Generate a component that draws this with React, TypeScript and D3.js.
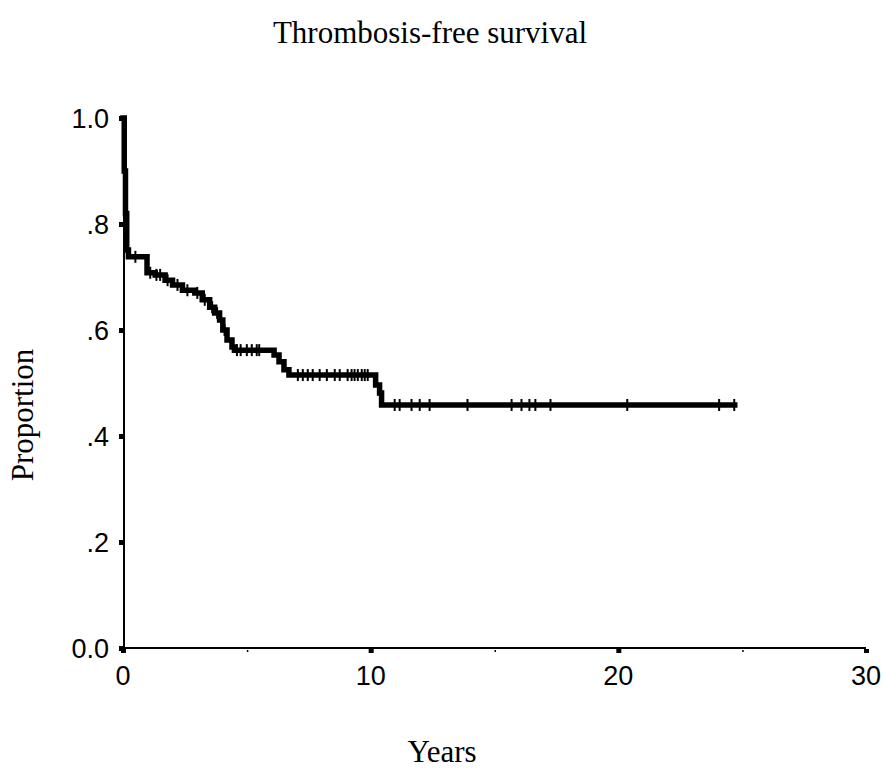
import React from "react";
import * as d3 from "d3";

// Kaplan–Meier step points: from each time on, survival takes the value
const eventTimes = [0, 0.05, 0.1, 0.15, 0.22, 0.97, 1.3, 1.7, 2.0, 2.4, 2.9, 3.2, 3.5, 3.7, 3.9, 4.03, 4.2, 4.4, 4.5, 6.1, 6.3, 6.5, 6.7, 10.2, 10.36, 10.44];
const survival = [1.0, 0.9, 0.82, 0.751, 0.738, 0.708, 0.704, 0.694, 0.685, 0.675, 0.67, 0.657, 0.643, 0.632, 0.619, 0.6, 0.581, 0.568, 0.562, 0.553, 0.54, 0.525, 0.515, 0.496, 0.481, 0.4585];
const lastTime = 24.7;

// censored observations (years)
const censorTimes = [
  0.5, 1.1, 1.35, 1.5, 1.8, 2.2, 2.6, 3.0, 3.3, 3.6, 3.8, 4.1,
  4.6, 4.75, 5.0, 5.2, 5.4, 5.5,
  7.06, 7.26, 7.46, 7.66, 7.94, 8.23, 8.55, 8.75, 9.07, 9.23, 9.35, 9.48, 9.64, 9.76, 9.88,
  10.97, 11.17, 11.65, 11.98, 12.38, 13.91, 15.69, 16.09, 16.41, 16.65, 17.26, 20.36, 24.07, 24.68,
];

const xTicks = [0, 10, 20, 30];
const xMinorTicks = [5, 15, 25];
const yTicks = [0, 0.2, 0.4, 0.6, 0.8, 1.0];
const yTickLabels = ["0.0", ".2", ".4", ".6", ".8", "1.0"];

const W = 885;
const H = 772;
const x0 = 123, x1 = 866, yTop = 118, yBot = 648;

export default function App() {
  const x = d3.scaleLinear().domain([0, 30]).range([x0, x1]);
  const y = d3.scaleLinear().domain([0, 1]).range([yBot, yTop]);

  const pts: [number, number][] = eventTimes.map((t, i) => [t, survival[i]]);
  pts.push([lastTime, survival[survival.length - 1]]);
  const line = d3
    .line<[number, number]>()
    .x((d) => x(d[0]))
    .y((d) => y(d[1]))
    .curve(d3.curveStepAfter);

  const bis = d3.bisector((t: number) => t).right;
  const survAt = (t: number) => survival[Math.max(0, bis(eventTimes, t) - 1)];

  const sans = "'Liberation Sans', Arial, sans-serif";
  const serif = "'Liberation Serif', 'Times New Roman', serif";

  return (
    <svg width={W} height={H} style={{ position: "absolute", left: 0, top: 0, background: "#fff" }}>
      {/* title */}
      <text x={430} y={43} textAnchor="middle" fontFamily={serif} fontSize={31} fill="#000">
        Thrombosis-free survival
      </text>
      {/* axes */}
      <line x1={x0 + 1} x2={x0 + 1} y1={yTop} y2={yBot} stroke="#000" strokeWidth={2} />
      <line x1={x0} x2={x1} y1={yBot} y2={yBot} stroke="#000" strokeWidth={2} />
      {xTicks.map((t) => (
        <g key={"xt" + t}>
          <rect x={x(t) - 2} y={yBot + 1} width={5} height={4} fill="#000" />
          <text x={x(t)} y={yBot + 37} textAnchor="middle" fontFamily={sans} fontSize={27} fontWeight={300} fill="#000">
            {t}
          </text>
        </g>
      ))}
      {xMinorTicks.map((t) => (
        <rect key={"xm" + t} x={x(t)} y={yBot + 2} width={1.5} height={2} fill="#000" />
      ))}
      {yTicks.map((v, i) => (
        <g key={"yt" + v}>
          <rect x={x0 - 4} y={y(v) - 2} width={4} height={5} fill="#000" />
          <text x={x0 - 14} y={y(v) + 10} textAnchor="end" fontFamily={sans} fontSize={27} fontWeight={300} fill="#000">
            {yTickLabels[i]}
          </text>
        </g>
      ))}
      {/* survival curve */}
      <path d={line(pts) || ""} fill="none" stroke="#000" strokeWidth={5.5} strokeLinejoin="miter" strokeLinecap="square" />
      {censorTimes.map((t, i) => (
        <line key={"c" + i} x1={x(t)} x2={x(t)} y1={y(survAt(t)) - 6} y2={y(survAt(t)) + 6} stroke="#000" strokeWidth={2} />
      ))}
      {/* axis titles */}
      <text x={442} y={762} textAnchor="middle" fontFamily={serif} fontSize={31} fill="#000">
        Years
      </text>
      <text transform="translate(33,415) rotate(-90)" textAnchor="middle" fontFamily={serif} fontSize={31} fill="#000">
        Proportion
      </text>
    </svg>
  );
}
